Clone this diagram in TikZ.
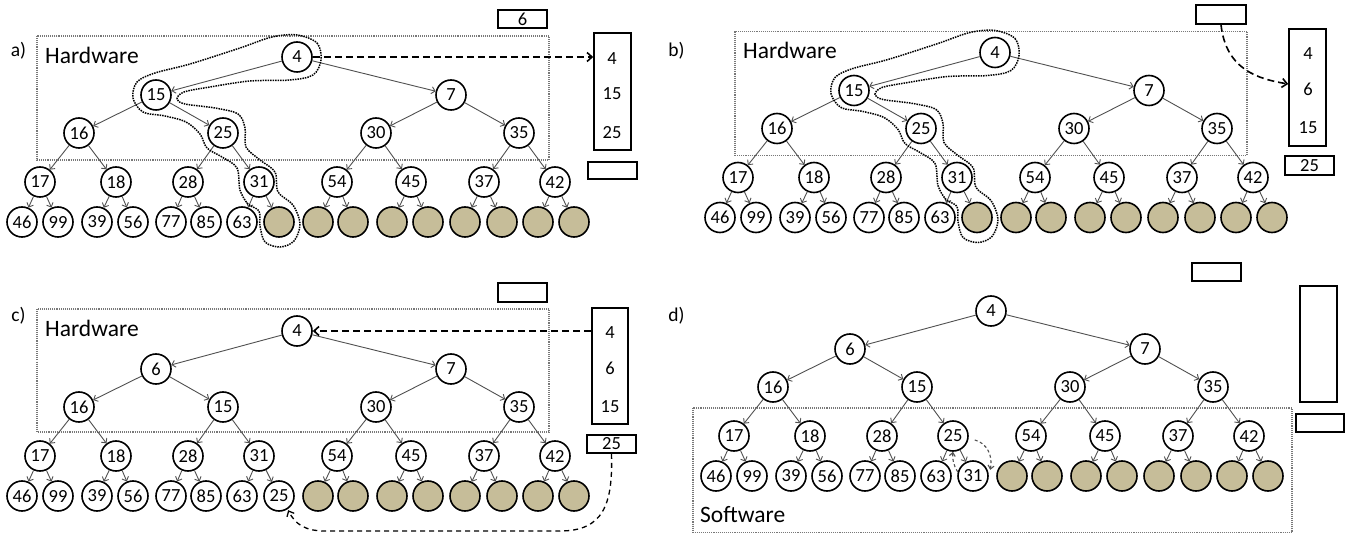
\documentclass[tikz,border=0pt]{standalone}
\usepackage{fontspec}
\setmainfont{Carlito}
\usetikzlibrary{arrows.meta,calc}
\definecolor{tanfill}{RGB}{198,189,153}
\definecolor{edgegray}{RGB}{80,80,80}
\definecolor{framegray}{RGB}{120,120,120}
\tikzset{
 hnode/.style={circle,draw,line width=1.6pt,fill=white,minimum size=30pt,inner sep=0pt,font=\fontsize{18.5}{18.5}\selectfont},
 enode/.style={hnode,fill=tanfill},
 treelink/.style={draw=edgegray,line width=0.9pt,-{Straight Barb[length=3.5pt,width=7pt]}},
 hwframe/.style={draw=framegray,densely dotted,line width=1.1pt},
 regtext/.style={font=\fontsize{23.5}{23.5}\selectfont,anchor=west,inner sep=0pt},
 plabel/.style={font=\fontsize{19.5}{19.5}\selectfont,inner sep=0pt},
 slot/.style={draw,line width=1.6pt,rectangle,inner sep=0pt,font=\fontsize{18.5}{18.5}\selectfont},
 slottext/.style={font=\fontsize{18.5}{18.5}\selectfont,inner sep=0pt},
 bigdash/.style={line width=1.6pt,dash pattern=on 7pt off 4pt,-{Straight Barb[length=5pt,width=9pt]}},
 middash/.style={line width=1.3pt,dash pattern=on 5pt off 4pt,-{Straight Barb[length=4.5pt,width=8pt]}},
 thindash/.style={draw=edgegray,line width=1.1pt,dash pattern=on 3pt off 2.5pt,-{Straight Barb[length=3.5pt,width=6pt]}},
 snake/.style={densely dotted,line width=1.5pt}
}
\newcommand\heaptree[2]{%
 \foreach \lab [count=\i] in {#2} {
  \pgfmathsetmacro\nx{{297,156,451,79,223,376,519,40,116,188,259,337,411,484,555,22,58,97,133,171,206,242,279,318,353,392,428,465,502,538,574}[\i-1]}
  \ifnum\i<2 \def\ny{57}\else\ifnum\i<4 \def\ny{95}\else\ifnum\i<8 \def\ny{133}\else\ifnum\i<16 \def\ny{182}\else\def\ny{222}\fi\fi\fi\fi
  \ifnum\lab=0 \node[enode] (#1\i) at (\nx,\ny) {};
  \else \node[hnode] (#1\i) at (\nx,\ny) {\lab};\fi
 }
 \foreach \i in {2,...,31} {
  \pgfmathtruncatemacro\pidx{\i/2}
  \draw[treelink] (#1\pidx) -- (#1\i);
 }
}
\newcommand\pathsnake{%
 \draw[snake] plot[smooth cycle, tension=0.55] coordinates {
 (297,35) (317,43) (321,60) (313,75) (290,80) (250,81) (210,87) (184,92) (177,99) (185,104) (215,108) (238,114) (245,128) (246,147) (260,160) (275,172) (278,192) (293,205) (300,224) (294,241) (280,247) (265,242) (260,226) (259,211) (248,204) (240,190) (237,168) (222,157) (207,148) (200,134) (186,122) (165,116) (143,112) (133,98) (137,82) (155,73) (190,64) (240,48) (272,37)};}
\begin{document}
\begin{tikzpicture}[x=1pt,y=-1pt]
\useasboundingbox (0,0) rectangle (1354,534);
% ---------- a)
\node[plabel] (la) at (18.5,51) {a)};
\draw[hwframe] (37,36) rectangle (549,160);
\node[regtext] (ahw) at (45,55) {Hardware};
\heaptree{a}{4,15,7,16,25,30,35,17,18,28,31,54,45,37,42,46,99,39,56,77,85,63,0,0,0,0,0,0,0,0,0}
\pathsnake
\node[slot,minimum width=49pt,minimum height=18pt] (atop) at (522.5,19) {6};
\node[slot,minimum width=37pt,minimum height=117pt] (astack) at (612.5,91.5) {};
\node[slottext] (as1) at (612,59) {4};
\node[slottext] (as2) at (612,94) {15};
\node[slottext] (as3) at (612,133) {25};
\node[slot,minimum width=49pt,minimum height=17pt] (abot) at (612.5,170.5) {};
\draw[bigdash] (a1.east) -- (a1.east -| astack.west);
% ---------- b)
\node[plabel] (lb) at (676.5,51) {b)};
\begin{scope}[shift={(698,-4.5)}]
\draw[hwframe] (37,36) rectangle (549,160);
\node[regtext] (bhw) at (45,55) {Hardware};
\heaptree{b}{4,15,7,16,25,30,35,17,18,28,31,54,45,37,42,46,99,39,56,77,85,63,0,0,0,0,0,0,0,0,0}
\pathsnake
\end{scope}
\node[slot,minimum width=50pt,minimum height=19pt] (btop) at (1221,14.5) {};
\node[slot,minimum width=37pt,minimum height=117pt] (bstack) at (1307.5,87.5) {};
\node[slottext] (bs1) at (1308,54) {4};
\node[slottext] (bs2) at (1308,89) {6};
\node[slottext] (bs3) at (1308,128) {15};
\node[slot,minimum width=49pt,minimum height=19pt] (bbot) at (1309.5,165.5) {25};
\draw[bigdash] (btop.south) .. controls +(5,45) and +(-30,-5) .. ($(bstack.west)+(0,-3.5)$);
% ---------- c)
\node[plabel] (lc) at (18.5,316) {c)};
\begin{scope}[shift={(0,274)}]
\draw[hwframe] (37,35) rectangle (549,158);
\node[regtext] (chw) at (45,54) {Hardware};
\heaptree{c}{4,6,7,16,15,30,35,17,18,28,31,54,45,37,42,46,99,39,56,77,85,63,25,0,0,0,0,0,0,0,0}
\end{scope}
\node[slot,minimum width=49pt,minimum height=19pt] (ctop) at (522.5,292.5) {};
\node[slot,minimum width=36pt,minimum height=116pt] (cstack) at (610,366) {};
\node[slottext] (cs1) at (610,333) {4};
\node[slottext] (cs2) at (610,368) {6};
\node[slottext] (cs3) at (610,407) {15};
\node[slot,minimum width=49pt,minimum height=18pt] (cbot) at (611.5,444) {25};
\draw[bigdash] (c1.east -| cstack.west) -- (c1.east);
\draw[middash] (cbot.south) .. controls (613,505) and (603,531) .. (560,531) -- (325,531) .. controls (305,531) and (295,524) .. ([shift={(-2,3)}]c23.south east);
% ---------- d)
\node[plabel] (ld) at (676.5,316) {d)};
\draw[hwframe] (693,408) rectangle (1292,532.5);
\node[regtext] (dsw) at (700,515) {Software};
\begin{scope}[shift={(694,254)}]
\heaptree{d}{4,6,7,16,15,30,35,17,18,28,25,54,45,37,42,46,99,39,56,77,85,63,31,0,0,0,0,0,0,0,0}
\end{scope}
\node[slot,minimum width=49pt,minimum height=18pt] (dtop) at (1216.5,272) {};
\node[slot,minimum width=37pt,minimum height=116pt] (dstack) at (1318.5,344) {};
\node[slot,minimum width=48pt,minimum height=18pt] (dbot) at (1320,423) {};
\draw[thindash] ([shift={(6,4)}]d11.east) .. controls +(12,3) and +(3,-14) .. ([shift={(6,5)}]d23.north east);
\draw[thindash] (d23.165) .. controls +(-4,-5) and +(-1,6) .. (d11.south);
\end{tikzpicture}
\end{document}
